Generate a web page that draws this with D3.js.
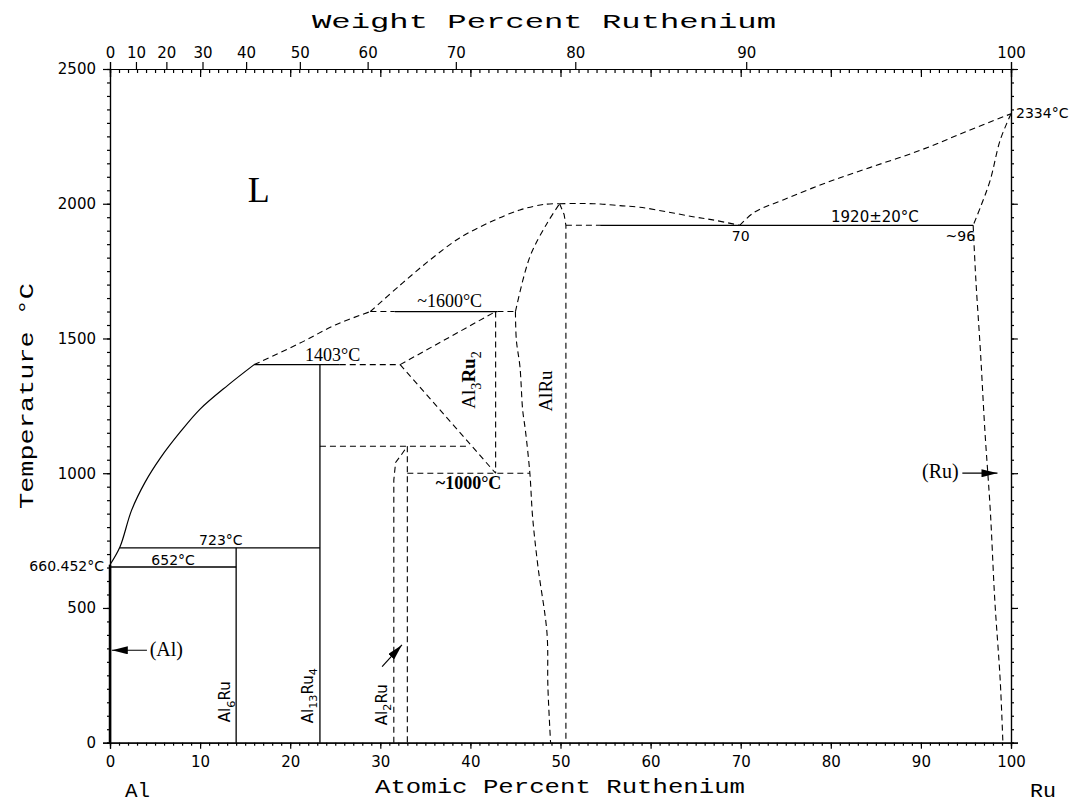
<!DOCTYPE html>
<html lang="en">
<head>
<meta charset="UTF-8">
<title>Al-Ru Phase Diagram</title>
<style>
  body { margin: 0; background: #fff; }
  svg { display: block; }
  .axis path, .axis line { stroke: #000; stroke-width: 1.2; }
  .axis text { font-family: "DejaVu Sans", sans-serif; font-size: 15px; fill: #000; }
</style>
</head>
<body>
<div id="chart"></div>
<script src="https://cdn.jsdelivr.net/npm/d3@7"></script>
<script>
// axis ticks
const atMajor = [0, 10, 20, 30, 40, 50, 60, 70, 80, 90, 100];
const atMinor = d3.range(0, 101, 1);
const wtTicks = [0, 10, 20, 30, 40, 50, 60, 70, 80, 90, 100];
const tempMajor = [0, 500, 1000, 1500, 2000, 2500];
const tempMinor = d3.range(0, 2501, 50);

// phase boundaries, [at.% Ru, temperature C]
const alSolid = [[0, 0], [0, 660.452]];
const liquidusAl = [[0, 660.452], [1.1, 726], [2.4, 863], [3.9, 967], [5.6, 1057], [7.8, 1153], [10.0, 1238], [13.1, 1327], [16.0, 1403]];
const liquidusAl13 = [[16.0, 1403], [21.1, 1483], [25.0, 1550], [28.9, 1600]];
const liquidusAlRuLeft = [[28.9, 1600], [32.2, 1698], [35.5, 1791], [38.8, 1873], [42.2, 1932], [45.5, 1977], [48.3, 1998], [49.9, 2000]];
const liquidusAlRuRight = [[49.9, 2000], [52.2, 2001], [54.4, 1999], [56.6, 1993], [58.8, 1987], [61.8, 1970], [64.7, 1952], [66.9, 1940], [69.9, 1920]];
const liquidusRu = [[69.9, 1920], [71.5, 1968], [74.7, 2014], [79.5, 2078], [84.4, 2135], [89.9, 2198], [94.9, 2266], [100, 2334]];
const solidusRu = [[100, 2334], [98.8, 2236], [97.7, 2088], [96.7, 1995], [95.8, 1920]];
const solvusRu = [[95.8, 1920], [96.1, 1717], [96.6, 1457], [97.1, 1159], [97.7, 863], [98.2, 530], [98.8, 233], [99.1, 0]];
const alRuTop = [[45.0, 1600], [46.6, 1803], [48.5, 1927], [49.9, 2000]];
const alRuLeft = [[45.0, 1600], [45.1, 1494], [45.5, 1395], [45.8, 1235], [46.1, 1160], [46.6, 1000], [46.9, 839], [47.5, 653], [48.5, 407], [48.6, 208], [48.9, 0]];
const alRuRight = [[49.9, 2000], [50.4, 1960], [50.6, 1920], [50.6, 0]];
const al3Ru2Upper = [[32.2, 1403], [42.8, 1600]];
const al3Ru2Lower = [[32.2, 1403], [42.8, 1000]];
const al3Ru2Right = [[42.8, 1600], [42.8, 1000]];
const al2RuLeft = [[31.5, 0], [31.5, 975], [31.7, 1040], [32.2, 1062], [33.0, 1100]];
const al2RuRight = [[33.0, 1100], [33.0, 0]];
const al6Ru = [[14.0, 0], [14.0, 723]];
const al13Ru4 = [[23.3, 0], [23.3, 1403]];

// isotherms
const iso652 = [[0, 652], [14.0, 652]];
const iso723 = [[1.1, 723], [23.3, 723]];
const iso1403Solid = [[16.0, 1403], [25.5, 1403]];
const iso1403Dash = [[25.5, 1403], [32.2, 1403]];
const iso1600Solid = [[31.6, 1600], [43.0, 1600]];
const iso1600DashA = [[28.9, 1600], [31.6, 1600]];
const iso1600DashB = [[43.0, 1600], [45.0, 1600]];
const iso1100 = [[23.3, 1100], [39.6, 1100]];
const iso1000 = [[33.0, 1000], [46.6, 1000]];
const iso1920Solid = [[54.4, 1920], [95.8, 1920]];
const iso1920Dash = [[50.6, 1920], [54.4, 1920]];

const curvedSolid = [liquidusAl];
const curvedDashed = [liquidusAl13, liquidusAlRuLeft, liquidusAlRuRight, liquidusRu, solidusRu, solvusRu, alRuTop, alRuLeft];
const straightSolid = [al6Ru, al13Ru4, iso652, iso723, iso1403Solid, iso1600Solid, iso1920Solid];
const straightDashed = [alRuRight, al3Ru2Upper, al3Ru2Lower, al3Ru2Right, al2RuLeft, al2RuRight,
  iso1403Dash, iso1600DashA, iso1600DashB, iso1100, iso1000, iso1920Dash];

const W = 1082, H = 803;
const svg = d3.select("#chart").append("svg").attr("width", W).attr("height", H);

const x = d3.scaleLinear().domain([0, 100]).range([110, 1011]);
const y = d3.scaleLinear().domain([0, 2500]).range([742.7, 69]);

// weight % Ru -> atomic % Ru
const mAl = 26.9815, mRu = 101.07;
function wtToAt(w) {
  const a = (w / mRu), b = ((100 - w) / mAl);
  return 100 * a / (a + b);
}

// bottom axis
svg.append("g").attr("class", "axis").attr("transform", `translate(0,${y(0)})`)
  .call(d3.axisBottom(x).tickValues(atMinor).tickSize(3).tickFormat(""));
svg.append("g").attr("class", "axis").attr("transform", `translate(0,${y(0)})`)
  .call(d3.axisBottom(x).tickValues(atMajor).tickSize(6).tickPadding(8).tickFormat(d3.format("d")));

// top axis: at.% ticks inside, wt.% ticks outside
svg.append("g").attr("class", "axis").attr("transform", `translate(0,${y(2500)})`)
  .call(d3.axisBottom(x).tickValues(atMinor).tickSize(4).tickFormat(""));
svg.append("g").attr("class", "axis").attr("transform", `translate(0,${y(2500)})`)
  .call(d3.axisBottom(x).tickValues(atMajor).tickSize(8).tickFormat(""));
svg.append("g").attr("class", "axis").attr("transform", `translate(0,${y(2500)})`)
  .call(d3.axisTop(x).tickValues(wtTicks.map(wtToAt)).tickSize(7).tickPadding(4)
    .tickFormat((d, i) => wtTicks[i]));

// left axis
svg.append("g").attr("class", "axis").attr("transform", `translate(${x(0)},0)`)
  .call(d3.axisLeft(y).tickValues(tempMinor).tickSize(3).tickFormat(""));
svg.append("g").attr("class", "axis").attr("transform", `translate(${x(0)},0)`)
  .call(d3.axisLeft(y).tickValues(tempMajor).tickSize(7).tickPadding(7).tickFormat(d3.format("d")));

// right axis
svg.append("g").attr("class", "axis").attr("transform", `translate(${x(100)},0)`)
  .call(d3.axisRight(y).tickValues(tempMinor).tickSize(3).tickFormat(""));
svg.append("g").attr("class", "axis").attr("transform", `translate(${x(100)},0)`)
  .call(d3.axisRight(y).tickValues(tempMajor).tickSize(7).tickFormat(""));

svg.selectAll(".axis .domain").attr("stroke", "#000");

// boundaries
const lineCurve = d3.line().x(d => x(d[0])).y(d => y(d[1])).curve(d3.curveCatmullRom.alpha(0.5));
const lineStraight = d3.line().x(d => x(d[0])).y(d => y(d[1]));

const g = svg.append("g").attr("fill", "none").attr("stroke", "#000");
g.selectAll(".cs").data(curvedSolid).join("path").attr("d", lineCurve).attr("stroke-width", 1.2);
g.selectAll(".cd").data(curvedDashed).join("path").attr("d", lineCurve)
  .attr("stroke-width", 1.1).attr("stroke-dasharray", "6,4");
g.selectAll(".ss").data(straightSolid).join("path").attr("d", lineStraight).attr("stroke-width", 1.3);
g.selectAll(".sd").data(straightDashed).join("path").attr("d", lineStraight)
  .attr("stroke-width", 1.1).attr("stroke-dasharray", "6,4");
g.append("path").attr("d", lineStraight(alSolid)).attr("stroke-width", 2.5);

// arrow marker
svg.append("defs").append("marker")
  .attr("id", "head").attr("markerUnits", "userSpaceOnUse")
  .attr("markerWidth", 16).attr("markerHeight", 8)
  .attr("refX", 16).attr("refY", 4).attr("orient", "auto")
  .append("path").attr("d", "M0,0L16,4L0,8Z").attr("fill", "#000");

function arrow(from, to) {
  svg.append("line")
    .attr("x1", x(from[0])).attr("y1", y(from[1]))
    .attr("x2", x(to[0])).attr("y2", y(to[1]))
    .attr("stroke", "#000").attr("stroke-width", 1.2)
    .attr("marker-end", "url(#head)");
}
arrow([4.1, 343], [0.2, 343]);
arrow([94.6, 1000], [98.5, 1000]);
arrow([30.2, 282], [32.4, 363]);

// labels
const serif = "'Liberation Serif', 'DejaVu Serif', serif";
const mono = "'Liberation Mono', 'DejaVu Sans Mono', monospace";
const sans = "'DejaVu Sans', sans-serif";

function label(tx, px, py, font, size, anchor) {
  return svg.append("text").attr("x", px).attr("y", py)
    .attr("font-family", font).attr("font-size", size)
    .attr("text-anchor", anchor || "start").text(tx);
}

label("L", x(15.3), y(2006), serif, 36);
label("1403°C", x(24.7), y(1416), serif, 18, "middle");
label("~1600°C", x(37.7), y(1617), serif, 18, "middle");
label("~1000°C", x(39.8), y(941), serif, 18, "middle").attr("font-weight", "bold");
label("(Al)", x(4.4), y(322), serif, 20);
label("(Ru)", x(94.2), y(982), serif, 20, "end");
label("723°C", x(12.3), y(734), sans, 14, "middle");
label("652°C", x(7.0), y(660), sans, 14, "middle");
label("660.452°C", x(0) - 6, y(660.452) + 6, sans, 14, "end");
label("2334°C", x(100) + 5, y(2334) + 4, sans, 14);
label("70", x(70), y(1920) + 16, sans, 14, "middle");
label("~96", x(95.8) + 2, y(1920) + 16, sans, 14, "end");
label("1920±20°C", x(84.9), y(1920) - 3, sans, 15, "middle");

// rotated compound names with subscripts
function compound(parts, px, py, font, size, anchor) {
  const t = svg.append("text")
    .attr("transform", `translate(${px},${py}) rotate(-90)`)
    .attr("font-family", font).attr("font-size", size)
    .attr("text-anchor", anchor || "start");
  parts.forEach(p => {
    if (p[1]) {
      t.append("tspan").attr("dy", size * 0.3).attr("font-size", size * 0.75).text(p[0]);
    } else {
      t.append("tspan").attr("dy", p[2] ? -size * 0.3 : 0).attr("font-weight", p[3] ? "bold" : null).text(p[0]);
    }
  });
  return t;
}

compound([["Al", false], ["6", true], ["Ru", false, true]], x(13.33), y(76), sans, 15);
compound([["Al", false], ["13", true], ["Ru", false, true], ["4", true]], x(22.5), y(72), sans, 15);
compound([["Al", false], ["2", true], ["Ru", false, true]], x(30.7), y(65), sans, 15);
compound([["Al", false], ["3", true], ["Ru", false, true, true], ["2", true]], x(40.5), y(1346), serif, 19, "middle");
compound([["AlRu", false]], x(49.1), y(1305), serif, 19, "middle");

// axis titles
label("Weight Percent Ruthenium", 312, 28, mono, 21)
  .attr("textLength", 464).attr("lengthAdjust", "spacingAndGlyphs");
label("Atomic Percent Ruthenium", 375, 793, mono, 21)
  .attr("textLength", 370).attr("lengthAdjust", "spacingAndGlyphs");
label("Al", x(0) + 15, 797, mono, 21).attr("textLength", 25).attr("lengthAdjust", "spacingAndGlyphs");
label("Ru", x(100) + 19, 797, mono, 21).attr("textLength", 26).attr("lengthAdjust", "spacingAndGlyphs");
svg.append("text")
  .attr("transform", "translate(33,396) rotate(-90)")
  .attr("font-family", mono).attr("font-size", 21)
  .attr("text-anchor", "middle")
  .attr("textLength", 226).attr("lengthAdjust", "spacingAndGlyphs")
  .text("Temperature °C");
</script>
</body>
</html>
